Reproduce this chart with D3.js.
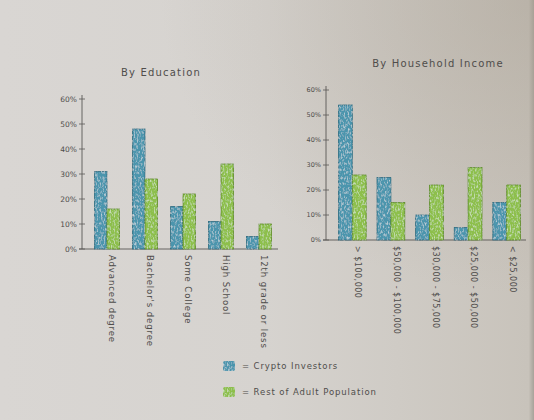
<!DOCTYPE html>
<html>
<head>
<meta charset="utf-8">
<script src="https://cdn.jsdelivr.net/npm/d3@7"></script>
<style>
  body { margin: 0; background: #d6d3cf; }
  svg text { font-family: "DejaVu Sans", sans-serif; fill: #4f4d4b; }
</style>
</head>
<body>
<svg id="chart" width="534" height="420"></svg>
<script>
// values (percent)
const eduCats = ["Advanced degree", "Bachelor's degree", "Some College", "High School", "12th grade or less"];
const eduCrypto = [31, 48, 17, 11, 5];
const eduRest = [16, 28, 22, 34, 10];

const incCats = ["> $100,000", "$50,000 - $100,000", "$30,000 - $75,000", "$25,000 - $50,000", "< $25,000"];
const incCrypto = [54, 25, 10, 5, 15];
const incRest = [26, 15, 22, 29, 22];

const yTicks = [0, 10, 20, 30, 40, 50, 60];
const seriesNames = ["= Crypto Investors", "= Rest of Adult Population"];
const colours = ["#4b95ad", "#8dbf4b"];
const strokes = ["#2f6d80", "#5f8d2c"];

const svg = d3.select("#chart");

// paper background
const defs = svg.append("defs");
const grad = defs.append("linearGradient").attr("id", "paper")
  .attr("x1", 0).attr("y1", 0).attr("x2", 1).attr("y2", 0);
grad.append("stop").attr("offset", 0).attr("stop-color", "#d9d6d3");
grad.append("stop").attr("offset", 0.5).attr("stop-color", "#d6d3cf");
grad.append("stop").attr("offset", 0.99).attr("stop-color", "#c8c3bb");
grad.append("stop").attr("offset", 1).attr("stop-color", "#a8a299");
svg.append("rect").attr("width", 534).attr("height", 420).attr("fill", "url(#paper)");

const shade = defs.append("radialGradient").attr("id", "shade")
  .attr("cx", 1).attr("cy", 0).attr("r", 0.7);
shade.append("stop").attr("offset", 0).attr("stop-color", "#a89f92").attr("stop-opacity", 0.45);
shade.append("stop").attr("offset", 1).attr("stop-color", "#a89f92").attr("stop-opacity", 0);
svg.append("rect").attr("width", 534).attr("height", 420).attr("fill", "url(#shade)");

// crayon speckle
const f = defs.append("filter").attr("id", "crayon");
f.append("feTurbulence").attr("type", "fractalNoise").attr("baseFrequency", "0.7 0.35")
  .attr("numOctaves", 2).attr("seed", 3).attr("result", "n");
f.append("feColorMatrix").attr("in", "n").attr("type", "matrix")
  .attr("values", "0 0 0 0 1  0 0 0 0 1  0 0 0 0 1  1.3 0 0 0 -0.62").attr("result", "w");
f.append("feComposite").attr("in", "w").attr("in2", "SourceGraphic").attr("operator", "in").attr("result", "wm");
const fm = f.append("feMerge");
fm.append("feMergeNode").attr("in", "SourceGraphic");
fm.append("feMergeNode").attr("in", "wm");

function drawPanel(opts) {
  const { cats, crypto, rest, xRange, yRange, axisX, title, titleX, titleY, pad,
          tickX, tickSize, labelDx, labelSize, labelSpacing } = opts;
  const g = svg.append("g");

  const x = d3.scaleBand().domain(cats).range(xRange).paddingInner(pad).paddingOuter(pad / 2);
  const xs = d3.scaleBand().domain([0, 1]).range([0, x.bandwidth()]);
  const y = d3.scaleLinear().domain([0, 60]).range(yRange);

  g.append("text").attr("x", titleX).attr("y", titleY).attr("text-anchor", "middle")
    .attr("font-size", 10).attr("letter-spacing", 1.2).text(title);

  // baseline and y axis
  g.append("line").attr("x1", axisX - 3).attr("x2", xRange[1]).attr("y1", y(0)).attr("y2", y(0))
    .attr("stroke", "#5a5856").attr("stroke-width", 0.9);
  g.append("line").attr("x1", axisX).attr("x2", axisX).attr("y1", y(0)).attr("y2", y(60) - 4)
    .attr("stroke", "#5a5856").attr("stroke-width", 0.9);

  const ticks = g.selectAll(".tick").data(yTicks).join("g")
    .attr("transform", d => `translate(0,${y(d)})`);
  ticks.append("line").attr("x1", axisX - 3).attr("x2", axisX + 3)
    .attr("stroke", "#5a5856").attr("stroke-width", 0.8);
  ticks.append("text").attr("x", tickX).attr("dy", "0.35em").attr("text-anchor", "end")
    .attr("font-size", tickSize).text(d => d + "%");

  [crypto, rest].forEach((vals, s) => {
    g.selectAll(".bar" + s).data(cats).join("rect")
      .attr("x", d => x(d) + xs(s))
      .attr("y", (d, i) => y(vals[i]))
      .attr("width", xs.bandwidth())
      .attr("height", (d, i) => y(0) - y(vals[i]))
      .attr("fill", colours[s])
      .attr("stroke", strokes[s])
      .attr("stroke-width", 0.8)
      .attr("filter", "url(#crayon)");
  });

  g.selectAll(".xl").data(cats).join("text")
    .attr("transform", d => `translate(${x(d) + x.bandwidth() / 2 + labelDx},${y(0) + 6}) rotate(90)`)
    .attr("dy", "0.35em")
    .attr("font-size", labelSize).attr("letter-spacing", labelSpacing)
    .text(d => d);
}

drawPanel({
  cats: eduCats, crypto: eduCrypto, rest: eduRest,
  xRange: [88, 278], yRange: [249, 99], axisX: 82, pad: 0.34,
  title: "By Education", titleX: 161, titleY: 76, tickX: 77, tickSize: 7.5,
  labelDx: 5, labelSize: 8.5, labelSpacing: 0.9
});

drawPanel({
  cats: incCats, crypto: incCrypto, rest: incRest,
  xRange: [333, 526], yRange: [240, 90], axisX: 326, pad: 0.28,
  title: "By Household Income", titleX: 438, titleY: 67, tickX: 321, tickSize: 6.5,
  labelDx: 6, labelSize: 8, labelSpacing: 0.5
});

// legend
const legend = svg.append("g").selectAll("g").data(seriesNames).join("g")
  .attr("transform", (d, i) => `translate(223,${361 + i * 26})`);
legend.append("rect").attr("width", 12).attr("height", 10).attr("rx", 2)
  .attr("fill", (d, i) => colours[i]).attr("filter", "url(#crayon)");
legend.append("text").attr("x", 19).attr("y", 5).attr("dy", "0.35em")
  .attr("font-size", 8.5).attr("letter-spacing", 0.9).text(d => d);
</script>
</body>
</html>
